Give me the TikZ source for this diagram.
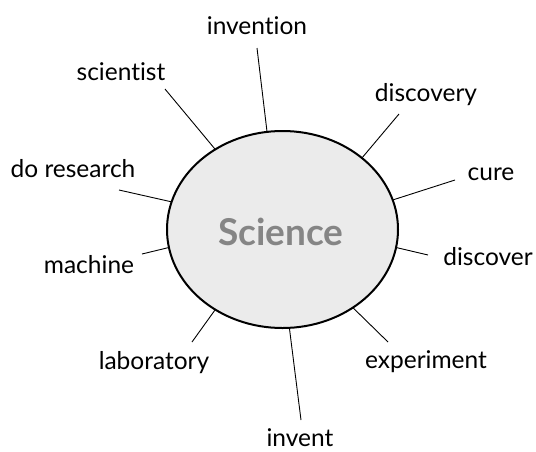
\documentclass[tikz,border=0pt]{standalone}
\usepackage{fontspec}
\setmainfont{Lato}[Ligatures=NoCommon]
\usetikzlibrary{shapes.geometric}

\tikzset{
  word/.style={anchor=base, inner sep=0pt, font=\fontsize{24.5}{28}\selectfont},
  spoke/.style={line width=0.9pt},
}

\begin{document}
\begin{tikzpicture}[x=1pt, y=-1pt]
\useasboundingbox (0,0) rectangle (536,451);
\node[ellipse, draw, line width=2pt, fill=black!8, inner sep=0pt, outer sep=0pt,
  minimum width=231pt, minimum height=197pt] (sci) at (282.5,229.5) {};
\node[anchor=base, text=black!48, font=\fontsize{37}{42}\selectfont\bfseries] (scitxt) at (281,245) {Science};

\node[word] (invention) at (257,34) {invention};
\node[word] (scientist) at (121,80) {scientist};
\node[word] (discovery) at (426,101) {discovery};
\node[word] (cure) at (491,180) {cure};
\node[word] (research) at (73,177) {do research};
\node[word] (machine) at (89,273) {machine};
\node[word] (discover) at (488,265) {discover};
\node[word] (laboratory) at (154,369) {laboratory};
\node[word] (experiment) at (426,368) {experiment};
\node[word] (invent) at (300,446) {invent};

\coordinate (e1) at (257,48);
\coordinate (e2) at (165,89);
\coordinate (e3) at (399,114);
\coordinate (e4) at (455,180);
\coordinate (e5) at (119,190);
\coordinate (e6) at (142,254);
\coordinate (e7) at (428,255);
\coordinate (e8) at (192,342);
\coordinate (e9) at (388,342);
\coordinate (e10) at (301,420);

\draw[spoke] (sci.99.5) -- (e1);
\draw[spoke] (sci.130.5) -- (e2);
\draw[spoke] (sci.42.8) -- (e3);
\draw[spoke] (sci.15.8) -- (e4);
\draw[spoke] (sci.166.3) -- (e5);
\draw[spoke] (sci.189.2) -- (e6);
\draw[spoke] (sci.-9.7) -- (e7);
\draw[spoke] (sci.230.2) -- (e8);
\draw[spoke] (sci.-48.2) -- (e9);
\draw[spoke] (sci.-86.3) -- (e10);
\end{tikzpicture}
\end{document}
